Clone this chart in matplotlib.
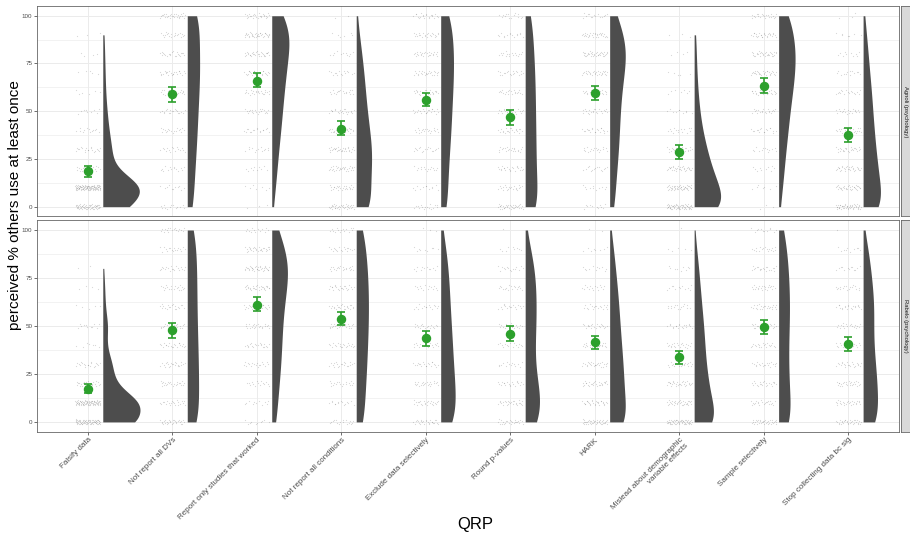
import numpy as np
import matplotlib
matplotlib.use("Agg")
import matplotlib.pyplot as plt

plt.rcParams['font.family'] = ['Liberation Sans', 'DejaVu Sans']

categories = ["Falsify data", "Not report all DVs", "Report only studies that worked",
              "Not report all conditions", "Exclude data selectively", "Round p-values",
              "HARK", "Mislead about demographic\nvariable effects", "Sample selectively",
              "Stop collecting data bc sig"]
panels = ["Agnoli (psychology)", "Rabelo (psychology)"]

# response levels (perceived %), counts of respondents at each level per QRP
levels = [0, 10, 20, 30, 40, 50, 60, 70, 80, 90, 100]

counts_agnoli = [
    [60, 100, 20, 20, 13, 9, 6, 5, 4, 3, 0],
    [13, 11, 14, 16, 18, 19, 21, 23, 22, 20, 27],
    [3, 7, 10, 13, 17, 20, 23, 27, 31, 37, 25],
    [35, 25, 30, 31, 26, 21, 18, 15, 11, 6, 2],
    [16, 12, 15, 17, 20, 21, 23, 25, 25, 23, 21],
    [34, 21, 22, 21, 21, 20, 20, 19, 17, 15, 14],
    [11, 11, 15, 18, 20, 21, 24, 29, 36, 30, 15],
    [59, 46, 32, 23, 15, 10, 7, 5, 4, 3, 0],
    [3, 7, 10, 13, 17, 20, 25, 29, 31, 27, 21],
    [47, 33, 30, 25, 22, 19, 17, 13, 10, 7, 3],
]
counts_rabelo = [
    [75, 80, 24, 20, 7, 11, 5, 4, 2, 0, 0],
    [28, 21, 23, 22, 21, 20, 19, 19, 19, 17, 17],
    [10, 11, 15, 18, 20, 21, 24, 30, 35, 28, 13],
    [17, 15, 18, 20, 21, 23, 23, 23, 21, 18, 15],
    [26, 24, 23, 20, 19, 17, 15, 14, 12, 9, 3],
    [25, 26, 20, 14, 15, 17, 17, 17, 15, 9, 1],
    [41, 28, 28, 26, 23, 20, 18, 15, 11, 8, 2],
    [56, 33, 29, 23, 21, 19, 15, 12, 9, 5, 1],
    [34, 22, 22, 20, 20, 22, 23, 22, 20, 17, 12],
    [31, 25, 25, 22, 18, 18, 20, 17, 13, 10, 1],
]

# mean and 95% CI
mean_agnoli = [18.7, 58.8, 66.0, 40.8, 55.8, 46.8, 59.7, 28.8, 63.4, 37.5]
lo_agnoli = [15.7, 54.8, 62.5, 37.3, 52.7, 42.9, 55.8, 25.1, 59.3, 33.7]
hi_agnoli = [21.5, 62.7, 69.8, 44.7, 59.7, 50.6, 63.2, 32.3, 67.2, 41.0]
mean_rabelo = [17.4, 47.7, 61.0, 53.7, 43.7, 45.7, 41.4, 33.9, 49.4, 40.5]
lo_rabelo = [15.1, 43.8, 57.6, 50.3, 39.8, 41.9, 38.1, 30.4, 45.9, 36.9]
hi_rabelo = [20.0, 51.5, 64.9, 57.4, 47.5, 49.9, 44.9, 37.2, 53.0, 44.0]

counts_all = [counts_agnoli, counts_rabelo]
means_all = [mean_agnoli, mean_rabelo]
lo_all = [lo_agnoli, lo_rabelo]
hi_all = [hi_agnoli, hi_rabelo]


def van_der_corput(k, base):
    out = np.zeros(len(k))
    k = k.copy()
    f = 1.0 / base
    while np.any(k > 0):
        out += f * (k % base)
        k //= base
        f /= base
    return out


W, H = 910, 536
fig = plt.figure(figsize=(W / 100, H / 100), dpi=100)

left_px, right_px = 37.3, 899.0
panel_px = [(6.2, 216.2), (220.4, 431.5)]
GREEN = '#2ca02c'
VIOLIN = '#4d4d4d'
AREA_K = 1150 / 84.5   # equal-area scaling of the half violins
NUDGE = 0.175
lev = np.array(levels, dtype=float)

for p in range(2):
    top, bot = panel_px[p]
    ax = fig.add_axes([left_px / W, 1 - bot / H, (right_px - left_px) / W, (bot - top) / H])
    ax.set_xlim(0.4, 10.6)
    ax.set_ylim(-5, 105)
    ax.set_yticks([0, 25, 50, 75, 100])
    ax.set_yticks([12.5, 37.5, 62.5, 87.5], minor=True)
    ax.set_xticks(range(1, 11))
    ax.grid(which='major', color='#ebebeb', lw=0.7)
    ax.grid(which='minor', axis='y', color='#ebebeb', lw=0.45)
    ax.set_axisbelow(True)
    for s in ax.spines.values():
        s.set_color('#666666')
        s.set_linewidth(0.6)
    ax.tick_params(axis='both', which='major', length=2, width=0.5, color='#333333',
                   labelsize=4.5, labelcolor='#4d4d4d', pad=1.5)
    ax.tick_params(axis='y', which='minor', length=0)
    if p == 0:
        ax.tick_params(axis='x', length=0, labelbottom=False)
    else:
        ax.set_xticklabels(categories, rotation=45, ha='right', va='top',
                           rotation_mode='anchor', fontsize=5.8, color='#4d4d4d',
                           multialignment='right')

    for i in range(len(categories)):
        c = np.array(counts_all[p][i])
        vals = np.repeat(lev, c)
        n = len(vals)
        idx = np.arange(n) + 1 + 11 * i + 5 * p
        jx = (van_der_corput(idx, 2) - 0.5) * 0.3
        jy = (van_der_corput(idx, 3) - 0.5) * 2.6
        ax.scatter(i + 1 + jx, vals + jy, s=0.7, c='#777777', alpha=0.3,
                   linewidths=0, zorder=2)

        bw = vals.std(ddof=1) * n ** (-0.2)
        yy = np.linspace(vals.min(), vals.max(), 400)
        dens = (c[None, :] * np.exp(-0.5 * ((yy[:, None] - lev[None, :]) / bw) ** 2)).sum(1)
        dens = dens / (n * bw * np.sqrt(2 * np.pi))
        x0 = i + 1 + NUDGE
        ax.fill_betweenx(yy, x0, x0 + dens * AREA_K, color=VIOLIN, lw=0, zorder=3)

        m = means_all[p][i]
        ax.errorbar([i + 1], [m], yerr=[[m - lo_all[p][i]], [hi_all[p][i] - m]], fmt='o',
                    color=GREEN, ms=5.8, capsize=3.2, elinewidth=1.2, capthick=1.2, zorder=4)

    # facet strip on the right
    sax = fig.add_axes([900.5 / W, 1 - bot / H, 12 / W, (bot - top) / H])
    sax.set_facecolor('#d9d9d9')
    sax.set_xticks([])
    sax.set_yticks([])
    for s in sax.spines.values():
        s.set_color('#666666')
        s.set_linewidth(0.6)
    sax.text(0.42, 0.5, panels[p], rotation=-90, ha='center', va='center',
             fontsize=4.2, color='#1a1a1a', transform=sax.transAxes)

fig.text(15 / W, 1 - 205.5 / H, "perceived % others use at least once", rotation=90,
         ha='center', va='center', fontsize=11, color='black')
fig.text(475 / W, 1 - 524.5 / H, "QRP", ha='center', va='center', fontsize=12, color='black')

fig.savefig("out.png", dpi=100)
